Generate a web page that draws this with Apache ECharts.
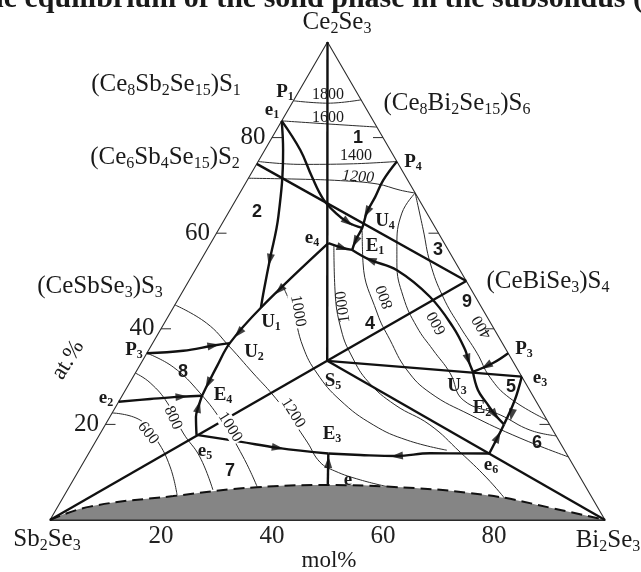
<!DOCTYPE html>
<html>
<head>
<meta charset="utf-8">
<script src="https://cdn.jsdelivr.net/npm/echarts@6/dist/echarts.min.js"></script>
<style>
html,body{margin:0;padding:0;background:#ffffff;}
#chart{width:641px;height:572px;}
</style>
</head>
<body>
<div id="chart"></div>
<script>
// ===== DATA: compositions given as [Bi2Se3 mol%, Ce2Se3 mol%] (Sb2Se3 = remainder) =====
const triangleEdges = [[0, 0], [100, 0], [0, 100], [0, 0]];
const edgeTickValues = [20, 40, 60, 80];
const bottomTickLabels = ['20', '40', '60', '80'];

// thick straight conodes
const lineApexS5 = [[0, 100], [33.3, 33.3]];
const lineS5S4 = [[33.3, 33.3], [50, 50]];
const lineS5e3 = [[33.3, 33.3], [70, 30]];
const lineS5Bi = [[33.3, 33.3], [100, 0]];
const lineS5Sb = [[33.3, 33.3], [0, 0]];
const lineS2S4 = [[0, 74.5], [50, 50]];

// monovariant curves (thick)
const curveE1U1 = [[0, 83.5], [3.3, 77.4], [9.4, 63.5], [12.4, 54.4], [14.5, 48.1], [15.8, 44.4]];
const curveE1U4 = [[0, 83.5], [6.4, 77.4], [11.3, 71.8], [15.6, 67.2], [19.4, 64.2], [22.5, 62.3], [25.7, 61.1]];
const curveP4E1 = [[25, 75], [24.5, 71.1], [24.8, 67.6], [24.9, 64.4], [25.7, 61.1], [25.8, 58.6], [26.2, 56.5]];
const curveE4toE4 = [[21.2, 57.9], [15.8, 44.4], [13.9, 37], [14, 32.1], [14.2, 28.6], [14.4, 26]];
const curveE4E1 = [[21.2, 57.9], [24.3, 56.9], [26.2, 56.5]];
const curveE1U3 = [[26.2, 56.5], [30.5, 54.4], [36.3, 52.3], [45.1, 46.7], [52.4, 40.4], [57, 35.6], [58.6, 33.5], [60.7, 31]];
const curveP3U3 = [[65.1, 34.9], [63.4, 32.85], [60.7, 31]];
const curveU3E2 = [[60.7, 31], [63.5, 27.2], [66.4, 24.5], [69.2, 22], [71.8, 20]];
const curveE3E2 = [[70, 30], [71.2, 25.1], [71.8, 20]];
const curveE6E2 = [[72.2, 13.9], [72, 17.4], [71.8, 20]];
const curveE6E3 = [[72.2, 13.9], [61.5, 13.95], [55.8, 13.4], [49.1, 13.6], [43.2, 13.9]];
const curveE5E3 = [[17.5, 17.8], [26, 16.4], [33.5, 15.1], [43.2, 13.9]];
const curveEE3 = [[46.5, 7.1], [43.2, 13.9]];
const curveE5E4 = [[17.5, 17.8], [15.5, 21.6], [14.9, 23.7], [14.4, 26]];
const curveE2E4 = [[0, 24.75], [5.4, 25.3], [10.8, 25.8], [14.4, 26]];
const curveP3U2 = [[0, 34.9], [6.3, 35.4], [11.2, 36.5], [13.9, 37]];

// arrows: [from, to] along the curves
const arrows = [
  [[9.4, 63.5], [12.4, 54.4]],
  [[19.4, 64.2], [22.5, 62.3]],
  [[24.8, 67.6], [24.9, 64.4]],
  [[25.7, 61.1], [25.9, 58.2]],
  [[21.2, 57.9], [24.3, 56.9]],
  [[21.2, 57.9], [17.3, 48.1]],
  [[15.8, 44.4], [14.4, 39.1]],
  [[6.3, 35.4], [11.2, 36.5]],
  [[14, 32.1], [14.2, 28.6]],
  [[5.4, 25.3], [10.8, 25.8]],
  [[15.5, 21.6], [14.9, 23.7]],
  [[26, 16.4], [33.5, 15.1]],
  [[61.5, 13.95], [55.8, 13.4]],
  [[46.5, 7.1], [44.1, 12.1]],
  [[36.3, 52.3], [30.5, 54.4]],
  [[57, 35.6], [58.6, 33.5]],
  [[65.1, 34.9], [62.5, 32.2]],
  [[66.4, 24.5], [69.2, 22]],
  [[71.2, 25.1], [72.2, 22]],
  [[72.2, 13.9], [72, 17.4]]
];

// isotherms (thin)
const iso1800 = [[0, 87.7], [6.5, 87.2], [12.1, 87.9]];
const iso1600 = [[0, 83.5], [8.7, 82.85], [17.8, 82.2]];
const iso1400 = [[0, 75], [7.9, 74.4], [16.8, 74.5], [25, 75]];
const iso1200top = [[0, 71.5], [9.4, 71.3], [16.8, 71], [23.8, 70.3], [28.6, 69], [31.6, 68.4]];
const isoRA = [[31.6, 68.4], [31.3, 64.2], [33.9, 57.2], [35.6, 53.8], [40.3, 46.7], [45.9, 40.4], [51.2, 35.6], [56.7, 30.75], [61.9, 25.1], [70.1, 22], [77.1, 18.8], [82.4, 17.6]];
const isoRB = [[31.6, 68.4], [36.9, 60.7], [41.6, 53.8], [47.5, 46.65], [53.7, 40.4], [59.5, 34.9], [64.3, 29.9], [70.1, 25.5], [79.1, 20.9]];
const iso800right = [[26, 60.5], [29.5, 53.8], [37.3, 43.3], [42.4, 37.7], [48.6, 31.4], [55.2, 26.6], [64.7, 22], [76.1, 17.15], [86.8, 13.2]];
const iso1000right = [[22.5, 57.3], [27.3, 48.1], [32.6, 39.75], [37.4, 34.1], [42.9, 28.9], [50.1, 24.1], [58.5, 19.9], [66.8, 14.2], [74.3, 8.8], [79.7, 4.5]];
const iso1000left = [[17.7, 48.7], [21.8, 43.9], [27.5, 36.2], [32.7, 30.75], [39.7, 25.1], [48.3, 19.9], [56, 16.7], [64.2, 14.6]];
const iso1200low = [[0, 45], [7.6, 41.2], [14.3, 36.2], [21.2, 30.75], [27.1, 26.15], [32.5, 21.5], [38.2, 16.3], [42.6, 12.1], [46.2, 10.25], [51.7, 8.4], [57.2, 7.0]];
const iso1000low = [[0, 34.9], [6.2, 32], [13.7, 26.6], [21, 20.3], [28.2, 13.2], [33.9, 6.9]];
const iso800low = [[0, 30.75], [3.7, 28.7], [8.9, 24.5], [14.9, 18.2], [20.4, 13.2], [26.2, 6.3]];
const iso600low = [[0, 22.4], [5.8, 20.9], [10.9, 16.7], [16.1, 11.1], [20.3, 5.2]];

// boundary of the shaded region
const glassBoundary = [[0, 0], [5.8, 2.8], [19.7, 5.0], [33.8, 6.85], [46.5, 7.3], [57.2, 7.0], [76.1, 5.2], [89.4, 2.45], [100, 0]];

// ===== helpers =====
const T = p => [p[0] + p[1] / 2, p[1]];        // ternary -> triangle plane
const SERIF = '"Liberation Serif", "Times New Roman", serif';
const SANS = '"Liberation Sans", Arial, sans-serif';
const thin = { color: '#2b2b2b', width: 1 };
const thick = { color: '#111111', width: 2.4 };

const chart = echarts.init(document.getElementById('chart'), null, { renderer: 'canvas' });
const series = [];
function addLine(pts, style, smooth, z) {
  series.push({
    type: 'line', data: pts.map(T), symbol: 'none', smooth: smooth || false,
    lineStyle: style, silent: true, clip: false, z: z || 3, animation: false
  });
}

series.push({
  type: 'line', data: glassBoundary.map(T), symbol: 'none', smooth: 0.45,
  lineStyle: { color: '#111', width: 2, type: [11, 6] },
  areaStyle: { color: '#858585', opacity: 1 }, silent: true, clip: false, z: 1, animation: false
});
addLine(triangleEdges, { color: '#2b2b2b', width: 1.1 }, false, 2);

[iso1800, iso1600, iso1400, iso1200top].forEach(c => addLine(c, thin, 0.4, 3));
[isoRA, isoRB, iso800right, iso1000right, iso1000left, iso1200low, iso1000low, iso800low, iso600low].forEach(c => addLine(c, thin, 0.45, 3));

[lineApexS5, lineS5S4, lineS5e3, lineS5Bi, lineS5Sb, lineS2S4, curveEE3].forEach(c => addLine(c, thick, false, 4));
[curveE1U1, curveE1U4, curveP4E1, curveE4toE4, curveE4E1, curveE1U3, curveP3U3, curveU3E2,
 curveE3E2, curveE6E2, curveE6E3, curveE5E3, curveE5E4, curveE2E4, curveP3U2].forEach(c => addLine(c, thick, 0.4, 4));

const tickLen = 100 / 555 * 10;
edgeTickValues.forEach(c => {
  series.push({ type: 'line', data: [[c / 2, c], [c / 2 + tickLen, c]], symbol: 'none', lineStyle: { color: '#2b2b2b', width: 1 }, silent: true, z: 2, animation: false });
  series.push({ type: 'line', data: [[100 - c / 2, c], [100 - c / 2 - tickLen, c]], symbol: 'none', lineStyle: { color: '#2b2b2b', width: 1 }, silent: true, z: 2, animation: false });
});

const option = {
  animation: false,
  backgroundColor: '#ffffff',
  grid: { left: 50, top: 42, width: 555, height: 478, containLabel: false },
  xAxis: {
    type: 'value', min: 0, max: 100, interval: 20,
    axisLine: { show: true, lineStyle: { color: '#2b2b2b', width: 1.1 } },
    axisTick: { show: true, inside: true, length: 10, lineStyle: { color: '#2b2b2b' }, customValues: edgeTickValues },
    splitLine: { show: false },
    axisLabel: { show: true, customValues: edgeTickValues, formatter: v => bottomTickLabels[edgeTickValues.indexOf(v)] || '', fontFamily: SERIF, fontSize: 25, color: '#222', margin: 4 }
  },
  yAxis: { type: 'value', min: 0, max: 100, show: false },
  series: series
};
chart.setOption(option);

const arrowData = arrows.map(([a, b]) => {
  const pa = chart.convertToPixel({ gridIndex: 0 }, T(a));
  const pb = chart.convertToPixel({ gridIndex: 0 }, T(b));
  const ang = Math.atan2(-(pb[1] - pa[1]), pb[0] - pa[0]) * 180 / Math.PI - 90;
  return { value: T(b), symbolRotate: ang };
});

const sub = (fs, bold, pad) => ({ fontSize: fs, fontFamily: SERIF, fontWeight: bold ? 'bold' : 'normal', padding: [pad, 0, 0, 0], fill: '#1a1a1a', color: '#1a1a1a' });
function txt(text, x, y, o) {
  o = o || {};
  return {
    type: 'text', x: x, y: y, rotation: (o.rot || 0) * Math.PI / 180, z: 100, silent: true,
    style: {
      text: text, x: 0, y: 0, fill: o.color || '#1a1a1a',
      fontSize: o.fs || 25, fontFamily: o.ff || SERIF, fontWeight: o.bold ? 'bold' : 'normal', fontStyle: o.italic ? 'italic' : 'normal',
      align: o.align || 'center', textAlign: o.align || 'center', verticalAlign: 'middle', textVerticalAlign: 'middle',
      backgroundColor: o.bg || null, padding: o.bg ? [0, 1] : 0,
      rich: { s: sub(o.sfs || 16, o.bold, o.spad || 14) }
    }
  };
}

const compoundLabels = [
  ['Ce{s|2}Se{s|3}', 337, 22],
  ['(Ce{s|8}Sb{s|2}Se{s|15})S{s|1}', 166, 84],
  ['(Ce{s|6}Sb{s|4}Se{s|15})S{s|2}', 165, 157],
  ['(CeSbSe{s|3})S{s|3}', 100, 286],
  ['(Ce{s|8}Bi{s|2}Se{s|15})S{s|6}', 457, 103],
  ['(CeBiSe{s|3})S{s|4}', 548, 281],
  ['Sb{s|2}Se{s|3}', 47, 539],
  ['Bi{s|2}Se{s|3}', 608, 540]
];
const pointLabels = [
  ['P{s|1}', 285, 92], ['e{s|1}', 272, 110], ['P{s|4}', 413, 162], ['U{s|4}', 385, 221],
  ['E{s|1}', 375, 246], ['e{s|4}', 312, 238], ['U{s|1}', 271, 322], ['U{s|2}', 254, 352],
  ['P{s|3}', 134, 350], ['e{s|2}', 106, 398], ['E{s|4}', 223, 395], ['e{s|5}', 205, 451],
  ['S{s|5}', 333, 381], ['E{s|3}', 332, 434], ['e', 348, 480], ['e{s|6}', 491, 465],
  ['E{s|2}', 482, 408], ['U{s|3}', 457, 386], ['e{s|3}', 540, 378], ['P{s|3}', 524, 349]
];
const regionLabels = [['1', 358, 138], ['2', 257, 212], ['3', 438, 250], ['4', 370, 324], ['5', 511, 387],
  ['6', 537, 443], ['7', 230, 471], ['8', 183, 372], ['9', 467, 302]];
const isoLabels = [
  ['1800', 328, 95, 0, false, false], ['1600', 328, 118, 0, false, false], ['1400', 356, 156, 0, false, false],
  ['1200', 358, 177, -4, false, true], ['1000', 298, 311, -80, true, false], ['1000', 343, 307, 98, false, false],
  ['800', 385, 297, 110, false, false], ['600', 437, 323, 118, false, false], ['400', 482, 327, 120, false, false],
  ['1200', 293, 413, -58, true, false], ['1000', 230, 427, -58, true, false], ['800', 173, 418, -66, true, false],
  ['600', 148, 433, -52, true, false]
];

const graphics = [];
graphics.push(txt('the equilibrium of the solid phase in the subsolidus (', 643, -1, { fs: 30, bold: true, align: 'right' }));
compoundLabels.forEach(([t, x, y]) => graphics.push(txt(t, x, y, { fs: 25, sfs: 16, spad: 14 })));
pointLabels.forEach(([t, x, y]) => graphics.push(txt(t, x, y, { fs: 19, sfs: 12, spad: 10, bold: true })));
regionLabels.forEach(([t, x, y]) => graphics.push(txt(t, x, y, { fs: 18, bold: true, ff: SANS })));
isoLabels.forEach(([t, x, y, r, bg, it]) => graphics.push(txt(t, x, y, { fs: 16, rot: r, bg: bg ? '#ffffff' : null, italic: it })));
graphics.push(txt('mol%', 329, 561, { fs: 23 }));
graphics.push(txt('at.%', 68, 360, { fs: 23, rot: 58 }));
edgeTickValues.forEach(c => {
  const p = chart.convertToPixel({ gridIndex: 0 }, T([0, c]));
  graphics.push(txt(String(c), p[0] - 19, p[1], { fs: 25 }));
});

chart.setOption({
  series: series.concat([{
    type: 'scatter', data: arrowData, symbol: 'triangle', symbolSize: [8, 12],
    itemStyle: { color: '#111' }, silent: true, z: 6, animation: false
  }]),
  graphic: graphics
});
</script>
</body>
</html>
